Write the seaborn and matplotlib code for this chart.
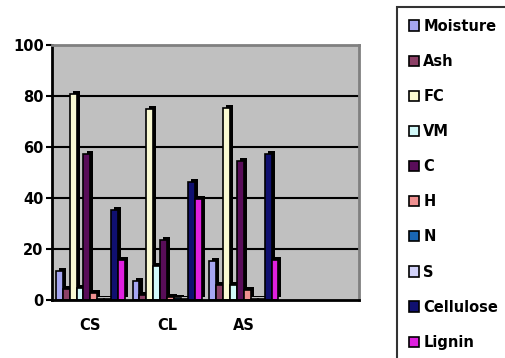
import pandas as pd
import seaborn as sns
import matplotlib
matplotlib.use('Agg')
import matplotlib.pyplot as plt
import matplotlib.patheffects as pe

samples = ['CS', 'CL', 'AS']
components = ['Moisture', 'Ash', 'FC', 'VM', 'C', 'H', 'N', 'S', 'Cellulose', 'Lignin']
colors = ['#9999FF', '#993366', '#FFFFCC', '#CCFFFF', '#660066',
          '#FF8080', '#0066CC', '#CCCCFF', '#000080', '#FF00FF']

cs = [11.5, 4.2, 80.8, 4.6, 57.3, 2.9, 0.5, 0.3, 35.3, 15.7]
cl = [7.6, 1.8, 74.8, 13.5, 23.5, 1.0, 0.8, 0.5, 46.1, 39.6]
as_ = [15.2, 5.9, 75.2, 5.9, 54.6, 3.9, 0.5, 0.3, 57.3, 15.7]

rows = []
for s, vals in zip(samples, [cs, cl, as_]):
    for c, v in zip(components, vals):
        rows.append({'sample': s, 'component': c, 'value': v})
df = pd.DataFrame(rows)

sns.set_style('white')
plt.rcParams['font.family'] = ['DejaVu Sans']
plt.rcParams['font.weight'] = 'bold'
plt.rcParams['text.color'] = 'black'
plt.rcParams['xtick.color'] = 'black'
plt.rcParams['ytick.color'] = 'black'
plt.rcParams['xtick.labelcolor'] = 'black'
plt.rcParams['ytick.labelcolor'] = 'black'

fig = plt.figure(figsize=(5.06, 3.58), dpi=100)
ax = fig.add_axes([52 / 506, 1 - 300 / 358, 307 / 506, 255 / 358])
ax.set_facecolor('#C0C0C0')

order = samples + [' ']
sns.barplot(data=df, x='sample', y='value', hue='component', order=order,
            hue_order=components, palette=colors, width=0.9,
            edgecolor='black', linewidth=1.2, ax=ax, legend=True)

for p in ax.patches:
    p.set_path_effects([pe.SimplePatchShadow(offset=(2.2, 2.2), shadow_rgbFace='black', alpha=1),
                        pe.Normal()])

ax.set_xlim(-0.5, 3.5)
ax.set_ylim(0, 100)
ax.set_yticks([0, 20, 40, 60, 80, 100])
for y in [20, 40, 60, 80]:
    ax.axhline(y, color='black', lw=1.5, zorder=0)
ax.set_axisbelow(True)

ax.set_xticks([0, 1, 2, 3])
ax.set_xticklabels(['CS', 'CL', 'AS', ''])
ax.set_xticks([-0.5, 0.5, 1.5, 2.5, 3.5], minor=True)
ax.tick_params(axis='x', which='major', length=0, pad=13, labelsize=10.5, labelcolor='black')
ax.tick_params(axis='x', which='minor', length=5, width=1.5, color='black', direction='out')
ax.tick_params(axis='y', length=4, width=1.5, color='black', labelsize=10.5, pad=2, left=True,
               labelcolor='black')
for lab in ax.get_xticklabels() + ax.get_yticklabels():
    lab.set_fontweight('bold')
ax.set_xlabel('')
ax.set_ylabel('')

ax.spines['left'].set_color('black')
ax.spines['left'].set_linewidth(2)
ax.spines['bottom'].set_color('black')
ax.spines['bottom'].set_linewidth(2)
ax.spines['top'].set_color('#808080')
ax.spines['top'].set_linewidth(2)
ax.spines['right'].set_color('#808080')
ax.spines['right'].set_linewidth(2)

handles, labels = ax.get_legend_handles_labels()
ax.get_legend().remove()
for h in handles:
    h.set_path_effects([])
leg = fig.legend(handles, labels, loc='upper left',
                 bbox_to_anchor=(397 / 506, 1 - 7 / 358), borderaxespad=0,
                 frameon=True, fancybox=False, edgecolor='black',
                 prop={'weight': 'bold', 'size': 10.5},
                 handlelength=0.7, handleheight=0.7, handletextpad=0.3,
                 labelspacing=1.38, borderpad=0.8, labelcolor='black')
leg.get_frame().set_linewidth(1.5)

fig.savefig('out.png', dpi=100)
